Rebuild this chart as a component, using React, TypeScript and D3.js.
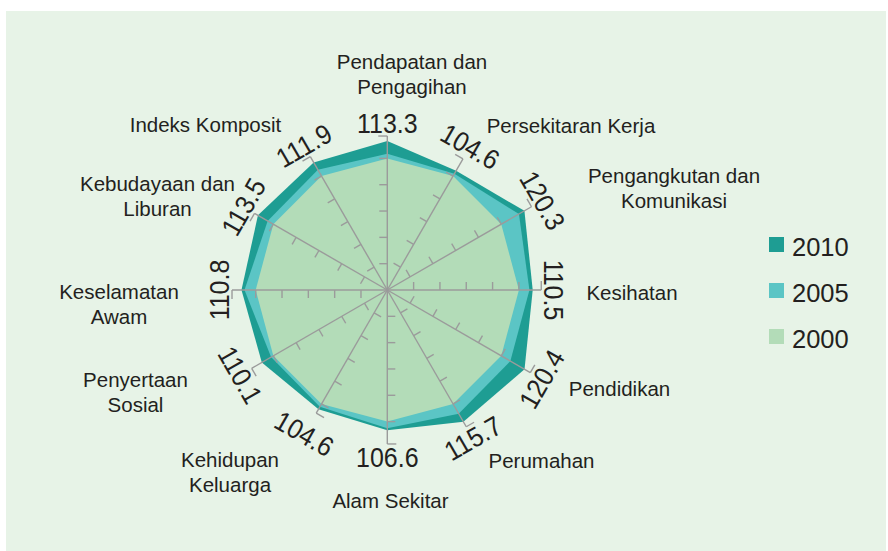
import React from "react";
import * as d3 from "d3";

// ---------- data ----------
const categories: string[][] = [
  ["Pendapatan dan", "Pengagihan"],
  ["Persekitaran Kerja"],
  ["Pengangkutan dan", "Komunikasi"],
  ["Kesihatan"],
  ["Pendidikan"],
  ["Perumahan"],
  ["Alam Sekitar"],
  ["Kehidupan", "Keluarga"],
  ["Penyertaan", "Sosial"],
  ["Keselamatan", "Awam"],
  ["Kebudayaan dan", "Liburan"],
  ["Indeks Komposit"],
];
const values2010 = [113.3, 104.6, 120.3, 110.5, 120.4, 115.7, 106.6, 104.6, 110.1, 110.8, 113.5, 111.9];
const values2005 = [103.5, 102.0, 115.5, 108.0, 108.0, 108.5, 105.0, 102.5, 102.0, 108.5, 105.0, 105.5];
const values2000 = [100, 100, 100, 100, 100, 100, 100, 100, 100, 100, 100, 100];
const axisExtent = [117, 115, 126.5, 117, 125.5, 120, 117, 108, 119, 118, 116.5, 117];
const tickValues = [20, 40, 60, 80, 100];
const seriesNames = ["2010", "2005", "2000"];

// ---------- layout / style ----------
const W = 888;
const H = 551;
const CX = 387.3;
const CY = 290;
const COLORS = ["#1e9d93", "#5bc5c5", "#b3dcb8"];
const AXIS = "#9b9b9b";
const TEXT = "#231f20";
const FONT = "'Liberation Sans', Arial, Helvetica, sans-serif";
const labelLayout: [number, number][] = [
  [412, 68.5],
  [571, 132.5],
  [674, 182.5],
  [632, 300],
  [619.5, 396],
  [541.5, 468],
  [390.5, 508],
  [230, 467],
  [135.5, 387],
  [119, 299],
  [157.5, 190.7],
  [205.5, 132],
];

export default function App() {
  const n = categories.length;
  const r = d3.scaleLinear().domain([0, 100]).range([0, 131.6]);
  const angle = (i: number) => (i * 2 * Math.PI) / n;
  const pt = (i: number, rad: number): [number, number] => [
    rad * Math.sin(angle(i)),
    -rad * Math.cos(angle(i)),
  ];
  const perp = (i: number): [number, number] => [-Math.cos(angle(i)), -Math.sin(angle(i))];

  const radial = d3
    .lineRadial<number>()
    .angle((_d, i) => angle(i))
    .radius((d) => r(d))
    .curve(d3.curveLinearClosed);

  const series = [values2010, values2005, values2000];
  const tickLen = 8;

  return (
    <svg width={W} height={H} style={{ position: "absolute", left: 0, top: 0 }} fontFamily={FONT}>
      <rect x={6} y={11} width={W - 8} height={H - 11} fill="#e7f3e7" />
      <g transform={`translate(${CX},${CY})`}>
        {series.map((s, k) => (
          <path key={k} d={radial(s) || ""} fill={COLORS[k]} />
        ))}
        {categories.map((_, i) => {
          const end = r(axisExtent[i]);
          const [ex, ey] = pt(i, end);
          const [px, py] = perp(i);
          return (
            <g key={i} stroke={AXIS} strokeWidth={1.4} fill="none">
              <line x1={0} y1={0} x2={ex} y2={ey} />
              <line x1={ex} y1={ey} x2={ex + px * 9} y2={ey + py * 9} />
              {tickValues.map((t) => {
                const [tx, ty] = pt(i, r(t));
                return (
                  <line key={t} x1={tx} y1={ty} x2={tx + px * tickLen} y2={ty + py * tickLen} />
                );
              })}
            </g>
          );
        })}
        {categories.map((_, i) => {
          const end = r(axisExtent[i]);
          const lr = Math.max(r(126), end + 13);
          const [lx, ly] = pt(i, lr);
          const deg = (i * 360) / n;
          const rot = deg <= 90 ? deg : deg < 270 ? deg - 180 : deg - 360;
          return (
            <text
              key={i}
              transform={`translate(${lx},${ly}) rotate(${rot}) scale(1,1.1)`}
              textAnchor="middle"
              dy="0.36em"
              fontSize={25}
              fill={TEXT}
            >
              {values2010[i].toFixed(1)}
            </text>
          );
        })}
      </g>
      {categories.map((lines, i) => (
        <text key={i} x={labelLayout[i][0]} y={labelLayout[i][1]} textAnchor="middle" fontSize={20.5} fill={TEXT}>
          {lines.map((ln, j) => (
            <tspan key={j} x={labelLayout[i][0]} dy={j === 0 ? 0 : 25}>
              {ln}
            </tspan>
          ))}
        </text>
      ))}
      {seriesNames.map((name, k) => (
        <g key={name} transform={`translate(769,${237 + k * 46})`}>
          <rect width={15} height={15} fill={COLORS[k]} />
          <text x={23} y={19} fontSize={25.5} fill={TEXT}>
            {name}
          </text>
        </g>
      ))}
    </svg>
  );
}
